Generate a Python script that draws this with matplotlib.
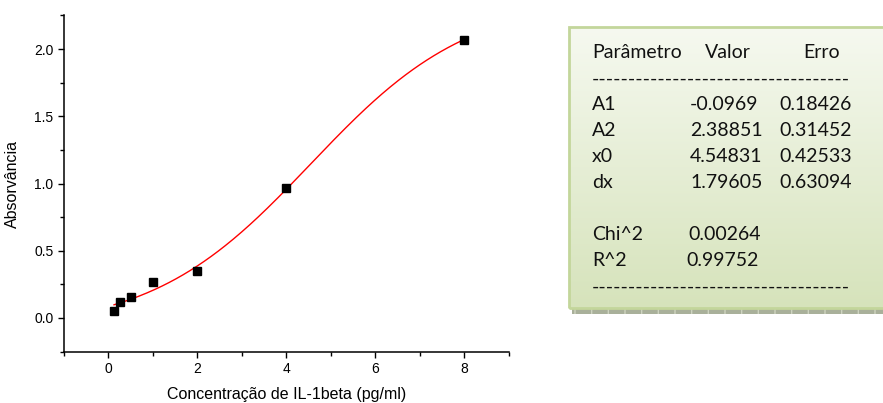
import numpy as np
import matplotlib
matplotlib.use("Agg")
import matplotlib.pyplot as plt
from matplotlib.patches import Rectangle
from matplotlib.ticker import MultipleLocator

# Calibration data: concentration vs absorbance
concentration = [0.125, 0.25, 0.5, 1.0, 2.0, 4.0, 8.0]
absorbance = [0.052, 0.120, 0.156, 0.268, 0.350, 0.967, 2.067]

# Boltzmann fit parameters
param_names = ["A1", "A2", "x0", "dx"]
param_values = [-0.0969, 2.38851, 4.54831, 1.79605]
param_errors = [0.18426, 0.31452, 0.42533, 0.63094]
chi2 = 0.00264
r2 = 0.99752

W, H = 883, 403
fig = plt.figure(figsize=(W / 100, H / 100), dpi=100)
fig.patch.set_facecolor("white")


def fx(px):
    return px / W


def fy(py):
    return 1 - py / H


# ---- main plot ----
ax = fig.add_axes([fx(64), fy(351.6), fx(508.7) - fx(64), fy(15.4) - fy(351.6)])
ax.set_xlim(-1, 9)
ax.set_ylim(-0.25, 2.25)
for s in ("top", "right"):
    ax.spines[s].set_visible(False)
for s in ("left", "bottom"):
    ax.spines[s].set_linewidth(1.1)
ax.xaxis.set_major_locator(MultipleLocator(2))
ax.xaxis.set_minor_locator(MultipleLocator(1))
ax.yaxis.set_major_locator(MultipleLocator(0.5))
ax.yaxis.set_minor_locator(MultipleLocator(0.25))
ax.tick_params(which="major", direction="out", length=4.5, width=1.0,
               labelsize=10, pad=3)
ax.tick_params(which="minor", direction="out", length=3, width=1.0)
ax.yaxis.set_major_formatter(matplotlib.ticker.FormatStrFormatter("%.1f"))
for lbl in ax.get_xticklabels() + ax.get_yticklabels():
    lbl.set_fontfamily("Liberation Sans")

A1, A2, x0, dx = param_values
xs = np.linspace(min(concentration), max(concentration), 300)
ys = A2 + (A1 - A2) / (1 + np.exp((xs - x0) / dx))
ax.plot(xs, ys, color="red", lw=1.0, zorder=2)
ax.plot(concentration, absorbance, "s", color="black", ms=6.3, zorder=3)

ax.set_xlabel("Concentração de IL-1beta (pg/ml)", fontsize=11.5,
              family="Liberation Sans", labelpad=8)
ax.set_ylabel("Absorvância", fontsize=11.5, family="Liberation Sans",
              labelpad=10)

# ---- results box ----
bx0, by0, bx1, by1 = 569, 27, 895, 308
shadow = Rectangle((fx(572), fy(314)), fx(W) - fx(572), fy(308) - fy(314),
                   transform=fig.transFigure, facecolor="#a9b09a",
                   edgecolor="#cdd3bf", hatch="|", lw=0, zorder=1)
fig.add_artist(shadow)

bax = fig.add_axes([fx(bx0), fy(by1), fx(bx1) - fx(bx0), fy(by0) - fy(by1)])
bax.set_axis_off()
top_c = np.array([0xf6, 0xf9, 0xf0]) / 255
bot_c = np.array([0xd6, 0xe3, 0xbb]) / 255
t = np.linspace(0, 1, 256)[:, None, None]
grad = top_c * (1 - t) + bot_c * t
bax.imshow(grad, aspect="auto", extent=[0, 1, 0, 1], origin="upper")
bax.set_xlim(0, 1)
bax.set_ylim(0, 1)
border = Rectangle((fx(bx0), fy(by1)), fx(bx1) - fx(bx0), fy(by0) - fy(by1),
                   transform=fig.transFigure, facecolor="none",
                   edgecolor="#c3d69b", lw=2.0, zorder=5)
fig.add_artist(border)

tf = dict(family="Lato", fontsize=14, color="#111111", va="center",
          transform=fig.transFigure, zorder=6)
col_name, col_val, col_err = 592, 690, 779
line_h = 26
y_head = 53

fig.text(fx(col_name), fy(y_head), "Parâmetro", **tf)
fig.text(fx(705), fy(y_head), "Valor", **tf)
fig.text(fx(803), fy(y_head), "Erro", **tf)
dash_line = "-" * 35
fig.text(fx(col_name), fy(y_head + line_h), dash_line, **tf)
for i, (n, v, e) in enumerate(zip(param_names, param_values, param_errors)):
    yy = y_head + line_h * (2 + i)
    fig.text(fx(col_name), fy(yy), n, **tf)
    fig.text(fx(col_val), fy(yy), f"{v:g}" if v < 0 else f"{v:.5f}", **tf)
    fig.text(fx(col_err), fy(yy), f"{e:.5f}", **tf)
yy = y_head + line_h * 7
fig.text(fx(col_name), fy(yy), "Chi^2", **tf)
fig.text(fx(688), fy(yy), f"{chi2:.5f}", **tf)
yy = y_head + line_h * 8
fig.text(fx(col_name), fy(yy), "R^2", **tf)
fig.text(fx(686), fy(yy), f"{r2:.5f}", **tf)
fig.text(fx(col_name), fy(y_head + line_h * 9), dash_line, **tf)

fig.savefig("out.png", dpi=100)
